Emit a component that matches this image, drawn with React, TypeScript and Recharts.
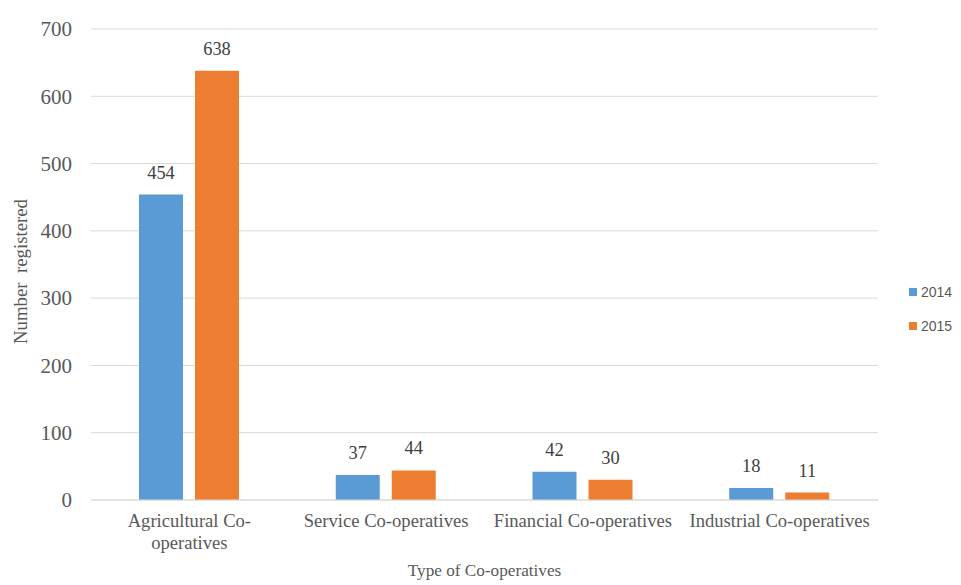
import React from "react";
import { BarChart, Bar, XAxis, YAxis, CartesianGrid, LabelList, Label } from "recharts";

const categories = [
  "Agricultural Co-operatives",
  "Service Co-operatives",
  "Financial Co-operatives",
  "Industrial Co-operatives",
];
const tickLines = [
  ["Agricultural Co-", "operatives"],
  ["Service Co-operatives"],
  ["Financial Co-operatives"],
  ["Industrial Co-operatives"],
];
const values2014 = [454, 37, 42, 18];
const values2015 = [638, 44, 30, 11];
const yTicks = [0, 100, 200, 300, 400, 500, 600, 700];

const BLUE = "#5b9bd5";
const ORANGE = "#ed7d31";
const TEXT = "#595959";
const SERIF = "'Liberation Serif', 'Times New Roman', serif";

const data = categories.map((name, i) => ({
  name,
  y2014: values2014[i],
  y2015: values2015[i],
}));

function CategoryTick(props: any) {
  const { x, y, payload } = props;
  const idx = categories.indexOf(payload.value);
  const lines = idx >= 0 ? tickLines[idx] : [payload.value];
  return (
    <text x={x} y={y} textAnchor="middle" fill={TEXT} fontFamily={SERIF} fontSize={18.6}>
      {lines.map((line, i) => (
        <tspan key={i} x={x} dy={i === 0 ? "0.71em" : 22}>
          {line}
        </tspan>
      ))}
    </text>
  );
}

function ValueTick(props: any) {
  const { x, y, payload } = props;
  return (
    <text x={x} y={y} dy="0.35em" textAnchor="end" fill={TEXT} fontFamily={SERIF} fontSize={21}>
      {payload.value}
    </text>
  );
}

function BarValue(props: any) {
  const { x, y, width, value } = props;
  return (
    <text x={x + width / 2} y={y - 16} textAnchor="middle" fill="#404040" fontFamily={SERIF} fontSize={18.4}>
      {value}
    </text>
  );
}

function LegendBox() {
  const items = [
    { label: "2014", color: BLUE },
    { label: "2015", color: ORANGE },
  ];
  return (
    <div
      style={{
        position: "absolute",
        left: 901,
        top: 267,
        fontFamily: "'Liberation Sans', Arial, sans-serif",
        fontSize: 14,
        color: TEXT,
        whiteSpace: "nowrap",
      }}
    >
      {items.map((it) => (
        <div key={it.label} style={{ display: "flex", alignItems: "center", height: 34 }}>
          <span style={{ width: 8, height: 8, background: it.color, marginRight: 4, display: "inline-block" }} />
          <span>{it.label}</span>
        </div>
      ))}
    </div>
  );
}

export default function App() {
  return (
    <div style={{ position: "relative", width: 953, height: 577, fontFamily: SERIF }}>
      <style>{"html, body { overflow: hidden; }"}</style>
      <BarChart
        width={953}
        height={577}
        data={data}
        margin={{ top: 21, right: 83, bottom: 0, left: 0 }}
        barGap={12}
      >
        <CartesianGrid vertical={false} stroke="#d9d9d9" />
        <XAxis
          dataKey="name"
          height={85}
          tickLine={false}
          axisLine={{ stroke: "#d9d9d9" }}
          tickSize={0}
          tickMargin={14}
          interval={0}
          tick={<CategoryTick />}
        >
          <Label
            value="Type of Co-operatives"
            position="center"
            dy={27}
            style={{ fontFamily: SERIF, fontSize: 17.2, fill: TEXT }}
          />
        </XAxis>
        <YAxis
          width={83}
          domain={[0, 700]}
          ticks={yTicks}
          axisLine={false}
          tickLine={false}
          tickSize={0}
          tickMargin={19}
          tick={<ValueTick />}
        >
          <Label
            value={"Number\u00A0\u00A0registered"}
            position="center"
            angle={-90}
            dx={-29}
            dy={7}
            style={{ fontFamily: SERIF, fontSize: 18.8, fill: TEXT }}
          />
        </YAxis>
        <Bar dataKey="y2014" name="2014" fill={BLUE} barSize={44} isAnimationActive={false}>
          <LabelList dataKey="y2014" content={<BarValue />} />
        </Bar>
        <Bar dataKey="y2015" name="2015" fill={ORANGE} barSize={44} isAnimationActive={false}>
          <LabelList dataKey="y2015" content={<BarValue />} />
        </Bar>
      </BarChart>
      <LegendBox />
    </div>
  );
}
